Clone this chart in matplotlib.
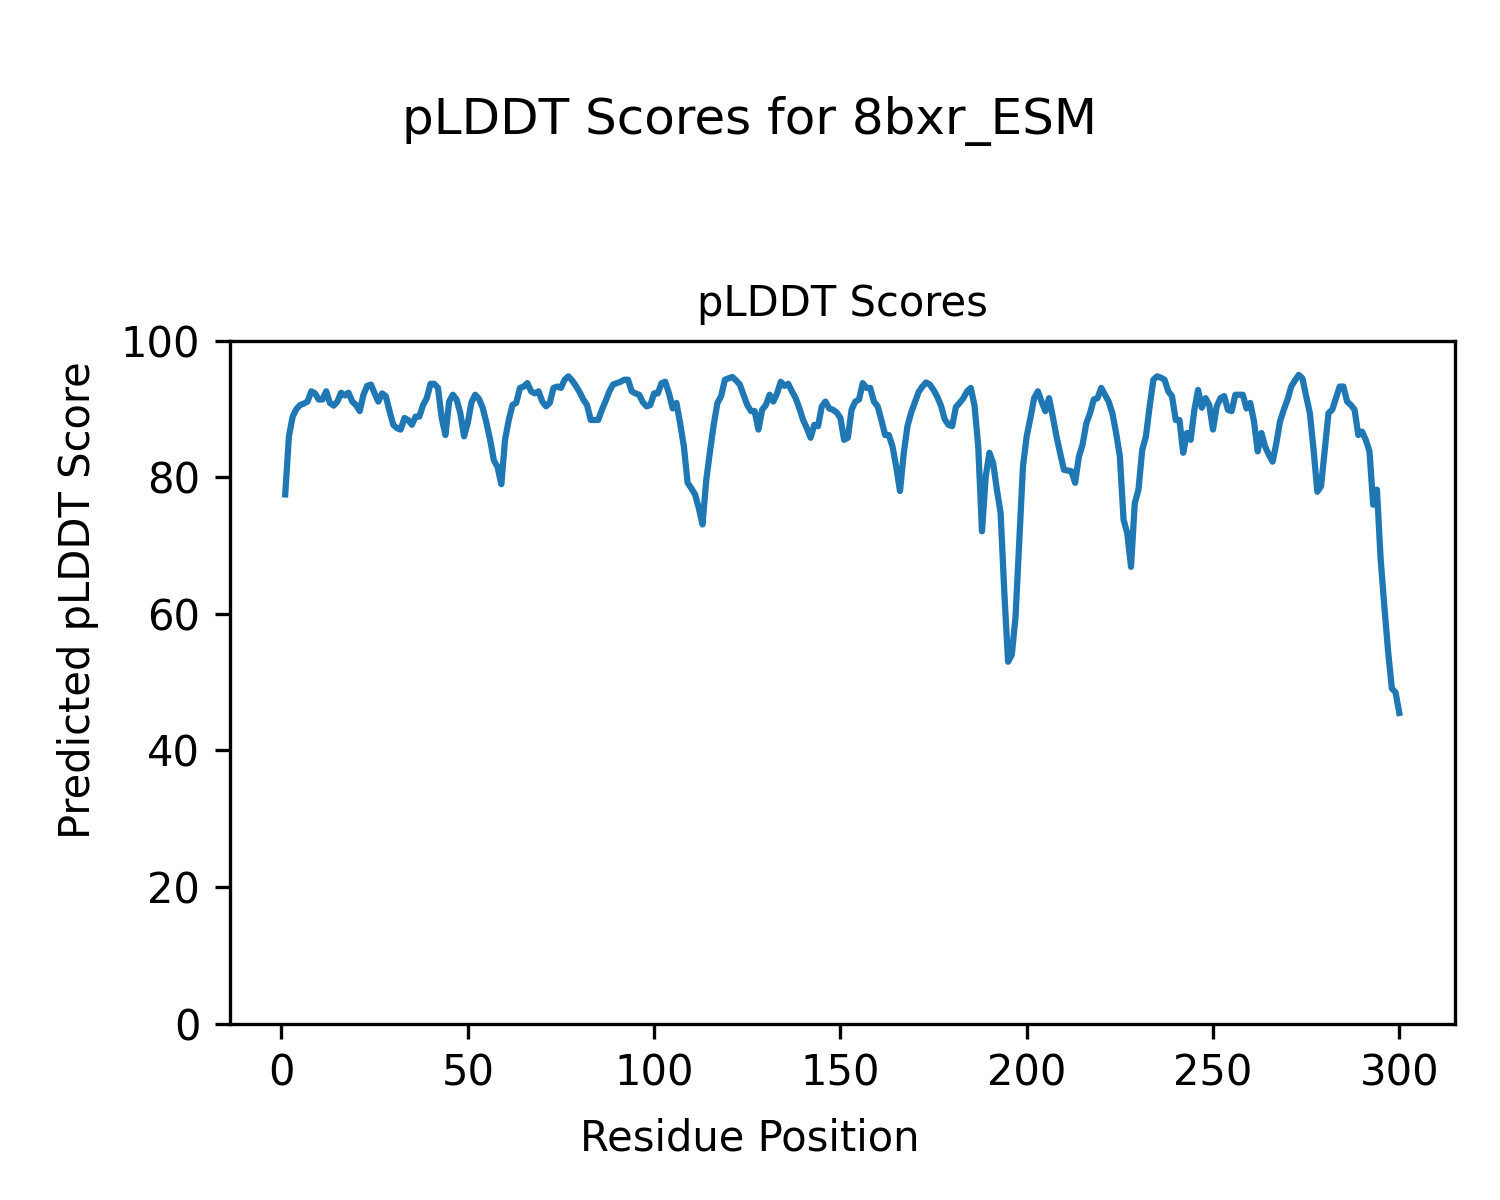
import matplotlib
matplotlib.use("Agg")
import matplotlib.pyplot as plt
import numpy as np

# Residue positions and per-residue pLDDT values
residues = np.arange(1, 301)

plddt_1_50 = [
    77.5, 86.0, 88.9, 90.0, 90.6, 90.8, 91.1, 92.6, 92.3, 91.4,
    91.4, 92.6, 90.9, 90.5, 91.1, 92.4, 92.0, 92.4, 91.1, 90.6,
    89.7, 92.1, 93.4, 93.6, 92.3, 91.1, 92.3, 91.9, 89.7, 87.7,
    87.2, 87.0, 88.7, 88.4, 87.7, 88.9, 88.9, 90.6, 91.6, 93.7,
    93.7, 93.1, 88.7, 86.2, 91.1, 92.1, 91.4, 89.4, 86.0, 88.0,
]
plddt_51_100 = [
    91.0, 92.1, 91.5, 90.2, 88.0, 85.5, 82.5, 81.5, 79.0, 85.5,
    88.4, 90.6, 90.9, 93.1, 93.3, 93.8, 92.6, 92.3, 92.6, 91.1,
    90.4, 90.9, 93.1, 93.3, 93.1, 94.3, 94.8, 94.2, 93.4, 92.5,
    91.4, 90.6, 88.4, 88.4, 88.4, 89.9, 91.2, 92.6, 93.6, 93.8,
    94.0, 94.3, 94.3, 92.6, 92.3, 92.1, 91.0, 90.4, 90.6, 92.3,
]
plddt_101_150 = [
    92.3, 93.8, 94.0, 92.3, 90.1, 90.9, 87.9, 84.5, 79.2, 78.4,
    77.5, 75.5, 73.1, 79.6, 83.8, 87.7, 90.9, 91.9, 94.3, 94.5,
    94.7, 94.2, 93.6, 92.1, 90.6, 89.7, 89.7, 87.0, 89.9, 90.6,
    92.1, 91.1, 92.3, 94.0, 93.4, 93.7, 92.6, 91.6, 90.1, 88.4,
    87.2, 85.8, 87.7, 87.5, 90.4, 91.1, 90.1, 89.9, 89.5, 88.7,
]
plddt_151_200 = [
    85.5, 85.8, 89.9, 91.1, 91.4, 93.8, 93.1, 93.1, 91.1, 90.4,
    88.4, 86.2, 86.2, 84.5, 81.5, 78.0, 83.5, 87.5, 89.5, 91.0,
    92.5, 93.3, 93.9, 93.6, 92.8, 91.8, 90.5, 88.5, 87.7, 87.5,
    90.3, 90.9, 91.6, 92.6, 93.1, 90.5, 84.5, 72.1, 80.1, 83.6,
    82.1, 78.2, 74.8, 63.1, 53.0, 54.0, 59.5, 70.4, 81.6, 86.0,
]
plddt_201_250 = [
    88.7, 91.6, 92.6, 91.1, 89.7, 91.6, 88.9, 86.0, 83.5, 81.1,
    81.0, 80.9, 79.2, 83.0, 84.8, 87.9, 89.4, 91.4, 91.6, 93.1,
    92.1, 91.1, 89.4, 86.5, 83.1, 73.8, 71.8, 66.9, 76.2, 78.2,
    84.0, 86.0, 90.4, 94.3, 94.8, 94.6, 94.3, 92.6, 91.9, 88.4,
    88.4, 83.6, 86.5, 85.5, 89.9, 92.8, 90.2, 91.6, 90.6, 87.0,
]
plddt_251_300 = [
    90.4, 91.6, 91.9, 89.9, 89.7, 92.1, 92.1, 92.1, 90.1, 90.9,
    88.2, 83.8, 86.5, 84.5, 83.3, 82.3, 85.0, 88.2, 89.9, 91.4,
    93.3, 94.2, 95.0, 94.5, 91.9, 89.4, 84.0, 77.9, 78.7, 84.0,
    89.4, 89.9, 91.6, 93.3, 93.3, 91.1, 90.6, 89.9, 86.2, 86.7,
    85.5, 83.8, 76.0, 78.2, 68.0, 61.0, 54.5, 49.1, 48.5, 45.5,
]

plddt = (plddt_1_50 + plddt_51_100 + plddt_101_150
         + plddt_151_200 + plddt_201_250 + plddt_251_300)

fig, ax = plt.subplots(figsize=(5, 4), dpi=300)
fig.subplots_adjust(left=0.153, right=0.97, bottom=0.147, top=0.716)
fig.suptitle("pLDDT Scores for 8bxr_ESM", y=0.92)

ax.plot(residues, plddt)
ax.set_ylim(0, 100)
ax.set_title("pLDDT Scores", fontsize=10)

# shared axis labels sit at the figure centre, not the axes centre
fig.text(0.5, 0.051, "Residue Position", ha="center", va="center")
fig.text(0.052, 0.5, "Predicted pLDDT Score", ha="center", va="center",
         rotation="vertical")

fig.savefig("out.png", dpi=300)
